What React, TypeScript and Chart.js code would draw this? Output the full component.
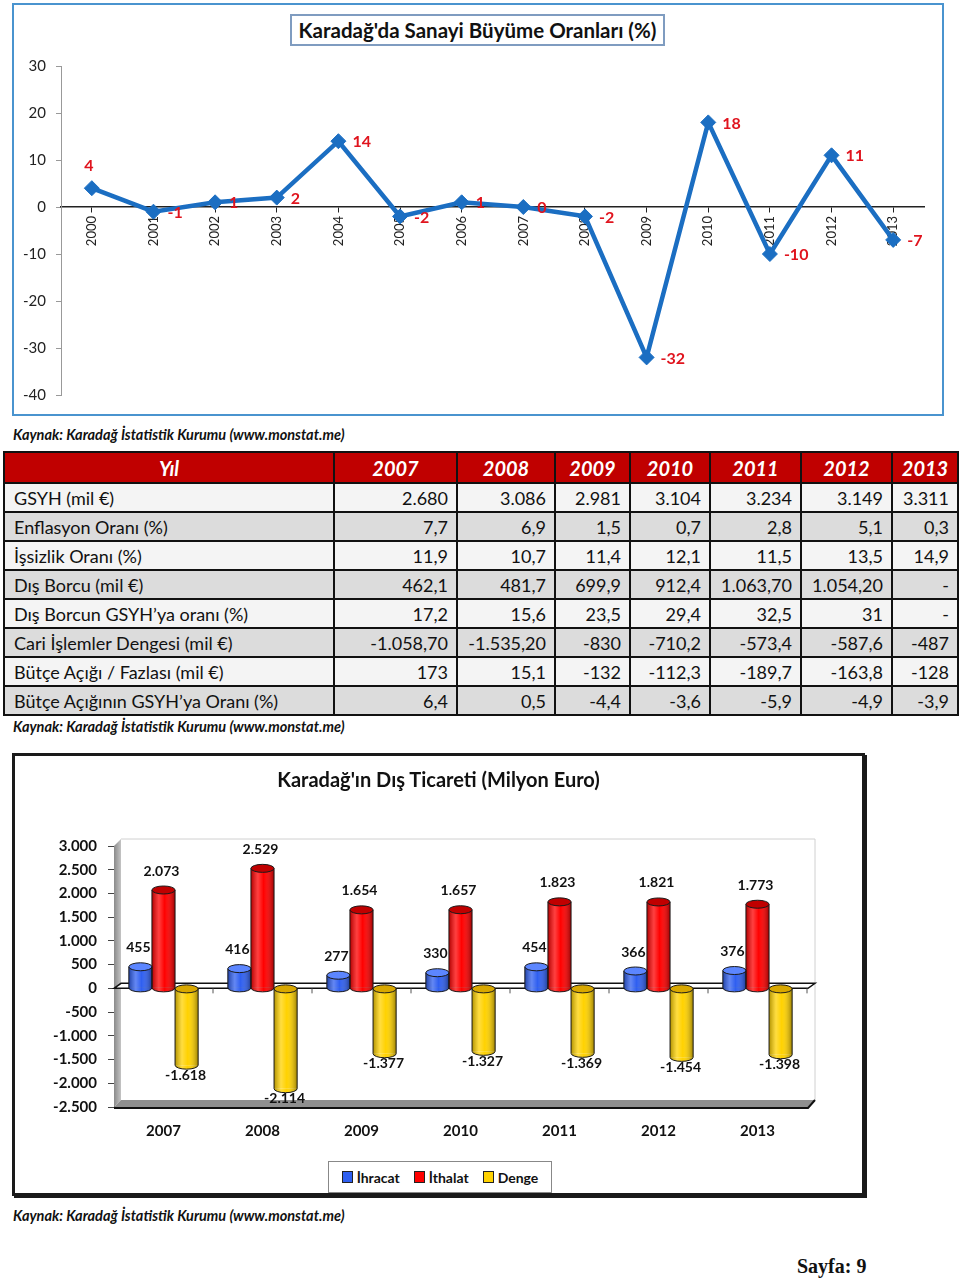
import React, { useEffect, useRef } from 'react';
import { Chart, registerables } from 'chart.js';

Chart.register(...registerables);

// ---------- Data: industrial growth ----------
const growthYears = ['2000', '2001', '2002', '2003', '2004', '2005', '2006', '2007', '2008', '2009', '2010', '2011', '2012', '2013'];
const growthValues = [4, -1, 1, 2, 14, -2, 1, 0, -2, -32, 18, -10, 11, -7];
const growthMin = -40;
const growthMax = 30;
const growthStep = 10;

// ---------- Data: table ----------
const tableYears = ['2007', '2008', '2009', '2010', '2011', '2012', '2013'];
const tableRowLabels = [
  'GSYH (mil €)',
  'Enflasyon Oranı (%)',
  'İşsizlik Oranı (%)',
  'Dış Borcu (mil €)',
  'Dış Borcun GSYH’ya oranı (%)',
  'Cari İşlemler Dengesi (mil €)',
  'Bütçe Açığı / Fazlası (mil €)',
  'Bütçe Açığının GSYH’ya Oranı (%)',
];
const gsyh = ['2.680', '3.086', '2.981', '3.104', '3.234', '3.149', '3.311'];
const enflasyon = ['7,7', '6,9', '1,5', '0,7', '2,8', '5,1', '0,3'];
const issizlik = ['11,9', '10,7', '11,4', '12,1', '11,5', '13,5', '14,9'];
const disBorcu = ['462,1', '481,7', '699,9', '912,4', '1.063,70', '1.054,20', '-'];
const disBorcGsyh = ['17,2', '15,6', '23,5', '29,4', '32,5', '31', '-'];
const cariIslemler = ['-1.058,70', '-1.535,20', '-830', '-710,2', '-573,4', '-587,6', '-487'];
const butce = ['173', '15,1', '-132', '-112,3', '-189,7', '-163,8', '-128'];
const butceGsyh = ['6,4', '0,5', '-4,4', '-3,6', '-5,9', '-4,9', '-3,9'];
const tableRows = [gsyh, enflasyon, issizlik, disBorcu, disBorcGsyh, cariIslemler, butce, butceGsyh];

// ---------- Data: foreign trade ----------
const tradeYears = ['2007', '2008', '2009', '2010', '2011', '2012', '2013'];
const ihracat = [455, 416, 277, 330, 454, 366, 376];
const ithalat = [2073, 2529, 1654, 1657, 1823, 1821, 1773];
const denge = [-1618, -2114, -1377, -1327, -1369, -1454, -1398];
const tradeSeriesNames = ['İhracat', 'İthalat', 'Denge'];
const tradeMin = -2500;
const tradeMax = 3000;
const tradeStep = 500;

const sourceText = 'Kaynak: Karadağ İstatistik Kurumu (www.monstat.me)';

const FONT = 'Lato, "Open Sans", sans-serif';

function fmtDots(v: number): string {
  const s = Math.abs(v).toString().replace(/\B(?=(\d{3})+(?!\d))/g, '.');
  return (v < 0 ? '-' : '') + s;
}

function GrowthChart() {
  const ref = useRef<HTMLCanvasElement>(null);
  useEffect(() => {
    if (!ref.current) return;
    const labelPlugin = {
      id: 'growthLabels',
      afterDatasetsDraw(chart: any) {
        const ctx = chart.ctx;
        const meta = chart.getDatasetMeta(0);
        ctx.save();
        ctx.font = 'bold 16px ' + FONT;
        ctx.fillStyle = '#e0141e';
        ctx.textBaseline = 'middle';
        meta.data.forEach((pt: any, i: number) => {
          const v = growthValues[i];
          if (i === 0) {
            ctx.textAlign = 'center';
            ctx.fillText(String(v), pt.x - 3, pt.y - 22);
          } else {
            ctx.textAlign = 'left';
            ctx.fillText(String(v), pt.x + 14, pt.y + 1);
          }
        });
        ctx.restore();
      },
    };
    const chart = new Chart(ref.current, {
      type: 'line',
      data: {
        labels: growthYears,
        datasets: [
          {
            data: growthValues,
            borderColor: '#1b6ec2',
            backgroundColor: '#1b6ec2',
            borderWidth: 4.5,
            pointStyle: 'rectRot',
            pointRadius: 7.5,
            pointBorderWidth: 1,
            pointBackgroundColor: '#1b6ec2',
            pointBorderColor: '#1b6ec2',
            tension: 0,
          },
        ],
      },
      options: {
        animation: false,
        responsive: false,
        layout: { padding: { left: 0, top: 61, right: 18, bottom: 18 } },
        plugins: { legend: { display: false }, tooltip: { enabled: false } },
        scales: {
          x: {
            type: 'category',
            position: { y: 0 } as any,
            offset: true,
            grid: { display: true, drawOnChartArea: false, drawTicks: true, tickLength: 5, color: '#222', lineWidth: 1 },
            border: { display: true, color: '#222', width: 1.5 },
            ticks: {
              minRotation: 90,
              maxRotation: 90,
              autoSkip: false,
              padding: 4,
              color: '#222',
              font: { family: FONT, size: 13 },
            },
          },
          y: {
            min: growthMin,
            max: growthMax,
            ticks: { stepSize: growthStep, padding: 10, color: '#222', font: { family: FONT, size: 15 } },
            grid: { display: true, drawOnChartArea: false, tickLength: 5, color: '#999' },
            border: { display: true, color: '#999' },
            afterFit(s: any) {
              s.width = 47;
            },
          },
        },
      },
      plugins: [labelPlugin],
    } as any);
    return () => chart.destroy();
  }, []);
  return <canvas ref={ref} width={928} height={409} style={{ display: 'block', position: 'absolute', left: 14, top: 5 }} />;
}

const barColors = ['#2f5ff0', '#ff0000', '#ffd200'];
const capColors = ['#5c86ff', '#c00000', '#d9a800'];

function TradeChart() {
  const ref = useRef<HTMLCanvasElement>(null);
  useEffect(() => {
    if (!ref.current) return;
    const wallPlugin = {
      id: 'wall3d',
      beforeDatasetsDraw(chart: any) {
        const ctx = chart.ctx;
        const ca = chart.chartArea;
        const ys = chart.scales.y;
        const d = 7;
        ctx.save();
        // back wall outline
        ctx.strokeStyle = '#d0d0d0';
        ctx.lineWidth = 1;
        ctx.beginPath();
        ctx.moveTo(ca.left + d, ca.top - d);
        ctx.lineTo(ca.right + d + 1, ca.top - d);
        ctx.lineTo(ca.right + d + 1, ca.bottom - d);
        ctx.stroke();
        // left wall
        const gw = ctx.createLinearGradient(ca.left, 0, ca.left + d, 0);
        gw.addColorStop(0, '#8a8a8a');
        gw.addColorStop(1, '#c4c4c4');
        ctx.fillStyle = gw;
        ctx.beginPath();
        ctx.moveTo(ca.left, ca.top);
        ctx.lineTo(ca.left + d, ca.top - d);
        ctx.lineTo(ca.left + d, ca.bottom - d);
        ctx.lineTo(ca.left, ca.bottom);
        ctx.closePath();
        ctx.fill();
        // floor
        ctx.fillStyle = '#8f8f8f';
        ctx.beginPath();
        ctx.moveTo(ca.left, ca.bottom);
        ctx.lineTo(ca.left + d, ca.bottom - d);
        ctx.lineTo(ca.right + d + 1, ca.bottom - d);
        ctx.lineTo(ca.right + 1, ca.bottom);
        ctx.closePath();
        ctx.fill();
        ctx.strokeStyle = '#111';
        ctx.lineWidth = 2;
        ctx.beginPath();
        ctx.moveTo(ca.left, ca.bottom + 1);
        ctx.lineTo(ca.right + 1, ca.bottom + 1);
        ctx.lineTo(ca.right + d + 1, ca.bottom - d);
        ctx.stroke();
        // zero plane
        const y0 = ys.getPixelForValue(0);
        ctx.fillStyle = '#ffffff';
        ctx.beginPath();
        ctx.moveTo(ca.left, y0);
        ctx.lineTo(ca.left + d, y0 - 5);
        ctx.lineTo(ca.right + d + 1, y0 - 5);
        ctx.lineTo(ca.right + 1, y0);
        ctx.closePath();
        ctx.fill();
        ctx.strokeStyle = '#111';
        ctx.lineWidth = 1.5;
        ctx.stroke();
        // category boundary ticks on zero plane
        const xs = chart.scales.x;
        ctx.lineWidth = 1;
        ctx.strokeStyle = '#555';
        for (let i = 1; i <= tradeYears.length; i++) {
          const xx = i < tradeYears.length ? (xs.getPixelForTick(i - 1) + xs.getPixelForTick(i)) / 2 : ca.right;
          ctx.beginPath();
          ctx.moveTo(xx, y0);
          ctx.lineTo(xx, y0 + 5);
          ctx.stroke();
        }
        ctx.restore();
      },
      afterDatasetsDraw(chart: any) {
        const ctx = chart.ctx;
        ctx.save();
        const ry = 4;
        [0, 1, 2].forEach((di) => {
          const meta = chart.getDatasetMeta(di);
          meta.data.forEach((el: any) => {
            const { x, y, base, width } = el.getProps(['x', 'y', 'base', 'width'], true);
            const left = x - width / 2;
            const right = x + width / 2;
            const top = Math.min(y, base);
            const bot = Math.max(y, base);
            // bottom rounding
            ctx.fillStyle = barColors[di];
            ctx.beginPath();
            ctx.ellipse(x, bot, width / 2, ry, 0, 0, Math.PI);
            ctx.fill();
            // shading
            const g = ctx.createLinearGradient(left, 0, right, 0);
            g.addColorStop(0, 'rgba(0,0,0,0.3)');
            g.addColorStop(0.3, 'rgba(255,255,255,0.25)');
            g.addColorStop(0.55, 'rgba(255,255,255,0.0)');
            g.addColorStop(1, 'rgba(0,0,0,0.38)');
            ctx.fillStyle = g;
            ctx.beginPath();
            ctx.moveTo(left, top);
            ctx.lineTo(left, bot);
            ctx.ellipse(x, bot, width / 2, ry, 0, Math.PI, 0, true);
            ctx.lineTo(right, top);
            ctx.closePath();
            ctx.fill();
            ctx.strokeStyle = '#1a1a1a';
            ctx.lineWidth = 1;
            ctx.beginPath();
            ctx.moveTo(left, top);
            ctx.lineTo(left, bot);
            ctx.ellipse(x, bot, width / 2, ry, 0, Math.PI, 0, true);
            ctx.lineTo(right, top);
            ctx.stroke();
            // top cap
            ctx.fillStyle = capColors[di];
            ctx.beginPath();
            ctx.ellipse(x, top, width / 2, ry, 0, 0, Math.PI * 2);
            ctx.fill();
            ctx.stroke();
          });
        });
        // value labels
        ctx.font = 'bold 14px ' + FONT;
        ctx.fillStyle = '#111';
        ctx.textAlign = 'center';
        ctx.textBaseline = 'middle';
        const series = [ihracat, ithalat, denge];
        [0, 1, 2].forEach((di) => {
          const meta = chart.getDatasetMeta(di);
          meta.data.forEach((el: any, i: number) => {
            const { x, y, base } = el.getProps(['x', 'y', 'base'], true);
            const v = series[di][i];
            if (v >= 0) {
              ctx.fillText(fmtDots(v), x - 2, Math.min(y, base) - 19);
            } else {
              ctx.fillText(fmtDots(v), x - 1, Math.max(y, base) + 10);
            }
          });
        });
        ctx.restore();
      },
    };
    const chart = new Chart(ref.current, {
      type: 'bar',
      data: {
        labels: tradeYears,
        datasets: [
          { label: tradeSeriesNames[0], data: ihracat, backgroundColor: barColors[0], borderWidth: 0 },
          { label: tradeSeriesNames[1], data: ithalat, backgroundColor: barColors[1], borderWidth: 0 },
          { label: tradeSeriesNames[2], data: denge, backgroundColor: barColors[2], borderWidth: 0 },
        ],
      },
      options: {
        animation: false,
        responsive: false,
        layout: { padding: { left: 0, top: 90, right: 56, bottom: 0 } },
        datasets: { bar: { categoryPercentage: 0.7, barPercentage: 1 } },
        plugins: { legend: { display: false }, tooltip: { enabled: false } },
        scales: {
          x: {
            grid: { display: false, drawTicks: false },
            border: { display: false },
            ticks: { padding: 15, color: '#111', font: { family: FONT, size: 15, weight: 'bold' } },
            afterFit(s: any) {
              s.height = 87;
            },
          },
          y: {
            min: tradeMin,
            max: tradeMax,
            ticks: {
              stepSize: tradeStep,
              padding: 11,
              color: '#111',
              font: { family: FONT, size: 15, weight: 'bold' },
              callback: (v: any) => fmtDots(Number(v)),
            },
            grid: { display: true, drawOnChartArea: false, tickLength: 6, color: '#444' },
            border: { display: true, color: '#444' },
            afterFit(s: any) {
              s.width = 99;
            },
          },
        },
      },
      plugins: [wallPlugin],
    } as any);
    return () => chart.destroy();
  }, []);
  return <canvas ref={ref} width={848} height={438} style={{ display: 'block', position: 'absolute', left: 15, top: 756 }} />;
}

const srcStyle: React.CSSProperties = {
  position: 'absolute',
  left: 13,
  fontFamily: FONT,
  fontWeight: 700,
  fontStyle: 'italic',
  fontSize: 14.5,
  lineHeight: '16px',
  color: '#111',
  whiteSpace: 'nowrap',
};

const colWidths = [330, 123, 98, 75, 80, 91, 91, 66];

function DataTable() {
  const border = '2px solid #111';
  const headStyle: React.CSSProperties = {
    border,
    height: 29,
    padding: 0,
    color: '#fff',
    fontStyle: 'italic',
    fontWeight: 700,
    fontSize: 20,
    textAlign: 'center',
  };
  return (
    <table
      style={{
        position: 'absolute',
        left: 3,
        top: 451,
        borderCollapse: 'collapse',
        tableLayout: 'fixed',
        width: 954,
        fontFamily: FONT,
        color: '#111',
      }}
    >
      <colgroup>
        {colWidths.map((w, i) => (
          <col key={i} style={{ width: w }} />
        ))}
      </colgroup>
      <thead>
        <tr style={{ background: '#c00000' }}>
          <th style={headStyle}>Yıl</th>
          {tableYears.map((y) => (
            <th key={y} style={headStyle}>
              {y}
            </th>
          ))}
        </tr>
      </thead>
      <tbody>
        {tableRowLabels.map((label, r) => (
          <tr key={label} style={{ background: r % 2 === 0 ? '#f4f4f4' : '#dcdcdc' }}>
            <td style={{ border, height: 27, padding: '0 0 0 9px', fontSize: 18, whiteSpace: 'nowrap' }}>{label}</td>
            {tableRows[r].map((v, c) => (
              <td
                key={c}
                style={{ border, height: 27, padding: '0 8px 0 0', fontSize: 18, textAlign: 'right', whiteSpace: 'nowrap' }}
              >
                {v}
              </td>
            ))}
          </tr>
        ))}
      </tbody>
    </table>
  );
}

function Legend() {
  const item = (name: string, color: string) => (
    <div key={name} style={{ display: 'flex', alignItems: 'center', marginRight: 14 }}>
      <span
        style={{
          display: 'inline-block',
          width: 9,
          height: 10,
          background: color,
          border: '1px solid #222',
          marginRight: 4,
        }}
      />
      <span>{name}</span>
    </div>
  );
  return (
    <div
      style={{
        position: 'absolute',
        left: 328,
        top: 1161,
        width: 224,
        height: 32,
        boxSizing: 'border-box',
        border: '1px solid #888',
        background: '#fff',
        display: 'flex',
        alignItems: 'center',
        justifyContent: 'center',
        paddingLeft: 14,
        fontFamily: FONT,
        fontWeight: 700,
        fontSize: 14,
        color: '#111',
      }}
    >
      {tradeSeriesNames.map((n, i) => item(n, barColors[i]))}
    </div>
  );
}

export default function App() {
  return (
    <div style={{ position: 'absolute', left: 0, top: 0, width: 960, height: 1278, background: '#fff', overflow: 'hidden' }}>
      {/* growth chart box */}
      <div
        style={{
          position: 'absolute',
          left: 12,
          top: 3,
          width: 932,
          height: 413,
          boxSizing: 'border-box',
          border: '2px solid #4a94cf',
        }}
      />
      <GrowthChart />
      <div
        style={{
          position: 'absolute',
          left: 290,
          top: 14,
          width: 375,
          height: 32,
          boxSizing: 'border-box',
          border: '2px solid #7f9cc0',
          background: '#fff',
          display: 'flex',
          alignItems: 'center',
          justifyContent: 'center',
          fontFamily: FONT,
          fontWeight: 700,
          fontSize: 20.5,
          color: '#111',
          whiteSpace: 'nowrap',
        }}
      >
        Karadağ'da Sanayi Büyüme Oranları (%)
      </div>

      <div style={{ ...srcStyle, top: 427 }}>{sourceText}</div>
      <DataTable />
      <div style={{ ...srcStyle, top: 719 }}>{sourceText}</div>

      {/* trade chart box */}
      <div
        style={{
          position: 'absolute',
          left: 12,
          top: 753,
          width: 853,
          height: 443,
          boxSizing: 'border-box',
          border: '3px solid #1a1a1a',
          boxShadow: '2px 2px 0 #1a1a1a',
          background: '#fff',
        }}
      />
      <TradeChart />
      <div
        style={{
          position: 'absolute',
          left: 12,
          top: 766,
          width: 853,
          textAlign: 'center',
          fontFamily: FONT,
          fontWeight: 700,
          fontSize: 20,
          lineHeight: '26px',
          color: '#111',
        }}
      >
        Karadağ'ın Dış Ticareti (Milyon Euro)
      </div>
      <Legend />
      <div style={{ ...srcStyle, top: 1208 }}>{sourceText}</div>
      <div
        style={{
          position: 'absolute',
          left: 797,
          top: 1254,
          fontFamily: '"Liberation Serif", "Times New Roman", serif',
          fontWeight: 700,
          fontSize: 20,
          lineHeight: '24px',
          color: '#111',
          whiteSpace: 'nowrap',
        }}
      >
        Sayfa: 9
      </div>
    </div>
  );
}
